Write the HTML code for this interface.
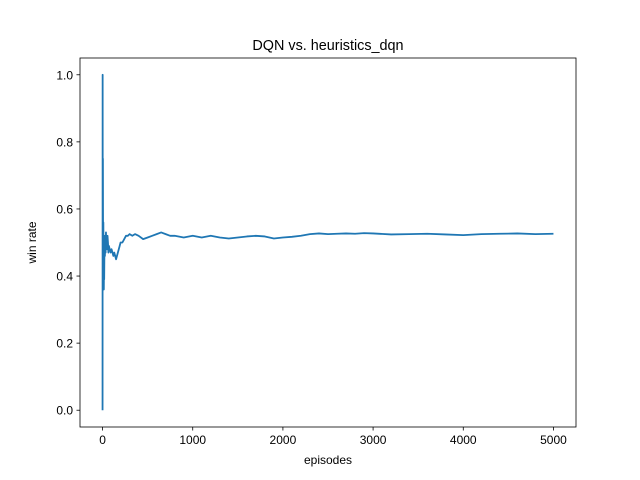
<!DOCTYPE html>
<html><head><meta charset="utf-8"><style>
body{margin:0;background:#fff;}
svg{display:block;font-family:"Liberation Sans","DejaVu Sans",sans-serif;}
</style></head><body>
<svg id="chart" width="640" height="480" viewBox="0 0 640 480"></svg>
<script>
const episodes = [0,1,2,3,4,5,6,7,8,9,10,12,14,16,18,20,23,26,30,34,38,42,46,50,55,60,65,70,80,90,100,110,120,130,140,150,160,170,180,190,200,220,240,260,280,300,330,360,400,450,500,550,600,650,700,750,800,900,1000,1100,1200,1300,1400,1500,1600,1700,1800,1900,2000,2100,2200,2300,2400,2500,2600,2700,2800,2900,3000,3200,3400,3600,3800,4000,4200,4400,4600,4800,5000];
const winRate = [0,1,0.5,0.67,0.75,0.6,0.5,0.43,0.5,0.56,0.5,0.42,0.36,0.44,0.39,0.45,0.52,0.46,0.5,0.47,0.53,0.49,0.51,0.48,0.52,0.5,0.47,0.49,0.48,0.47,0.48,0.47,0.46,0.47,0.46,0.45,0.46,0.47,0.48,0.49,0.5,0.5,0.51,0.52,0.52,0.525,0.52,0.525,0.52,0.51,0.515,0.52,0.525,0.53,0.525,0.52,0.52,0.515,0.52,0.515,0.52,0.515,0.512,0.515,0.518,0.52,0.518,0.512,0.515,0.517,0.52,0.525,0.527,0.525,0.526,0.527,0.526,0.528,0.527,0.524,0.525,0.526,0.524,0.522,0.525,0.526,0.527,0.525,0.526];
const xTicks = [0,1000,2000,3000,4000,5000];
const yTicks = [0,0.2,0.4,0.6,0.8,1.0];

const NS='http://www.w3.org/2000/svg';
const svg=document.getElementById('chart');
const L=80,R=576,T=58,B=427;
const xMin=-250,xMax=5250,yMin=-0.05,yMax=1.05;
const xs=v=>L+(v-xMin)/(xMax-xMin)*(R-L);
const ys=v=>B-(v-yMin)/(yMax-yMin)*(B-T);
function mk(tag,attrs,parent){const e=document.createElementNS(NS,tag);for(const k in attrs)e.setAttribute(k,attrs[k]);(parent||svg).appendChild(e);return e;}

const title=mk('text',{x:(L+R)/2,y:50,'text-anchor':'middle','font-size':14.4,fill:'#000'});


title.textContent='DQN vs. heuristics_dqn';

const line=mk('polyline',{fill:'none',stroke:'#1f77b4','stroke-width':1.8,'stroke-linejoin':'round',points:episodes.map((e,i)=>xs(e).toFixed(2)+','+ys(winRate[i]).toFixed(2)).join(' ')});



const frame=mk('rect',{x:L,y:T,width:R-L,height:B-T,fill:'none',stroke:'#000','stroke-width':0.8});



xTicks.forEach(t=>{
  const x=xs(t);
  const tk=mk('line',{x1:x,x2:x,y1:B,y2:B+3.5,stroke:'#000','stroke-width':0.8});
  
  
  const lb=mk('text',{x:x,y:B+17,'text-anchor':'middle','font-size':12,fill:'#000'});
  
  
  lb.textContent=t;
});
yTicks.forEach(t=>{
  const y=ys(t);
  const tk=mk('line',{x1:L-3.5,x2:L,y1:y,y2:y,stroke:'#000','stroke-width':0.8});
  
  
  const lb=mk('text',{x:L-7,y:y+4.5,'text-anchor':'end','font-size':12,fill:'#000'});
  
  
  lb.textContent=t.toFixed(1);
});
const xl=mk('text',{x:(L+R)/2,y:464,'text-anchor':'middle','font-size':12,fill:'#000'});


xl.textContent='episodes';
const yl=mk('text',{x:36,y:(T+B)/2,'text-anchor':'middle','font-size':12,fill:'#000',transform:'rotate(-90 36 '+((T+B)/2)+')'});


yl.textContent='win rate';
</script>
</body></html>
